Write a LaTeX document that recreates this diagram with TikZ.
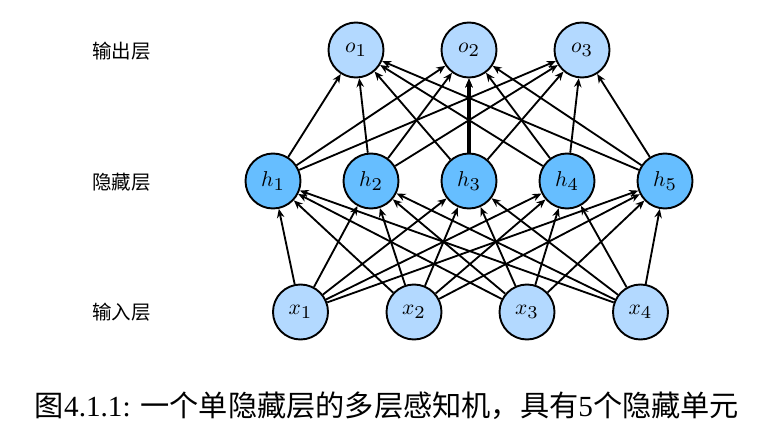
\documentclass[tikz,border=0pt]{standalone}
\usepackage{fontspec}
\setmainfont{Liberation Serif}
\newfontfamily\cjk{Noto Sans CJK SC}
\usetikzlibrary{arrows.meta}
\definecolor{lightb}{RGB}{179,217,255}
\definecolor{darkb}{RGB}{102,190,255}
\newcommand{\nlab}[2]{\scalebox{2.15}{$#1_{\scalebox{1.2}{$\scriptstyle #2$}}$}}
\tikzset{
  neuron/.style={circle,draw=black,line width=1.9pt,minimum size=55pt,inner sep=0pt},
  inout/.style={neuron,fill=lightb},
  hid/.style={neuron,fill=darkb},
  conn/.style={line width=1.85pt,-{Stealth[length=9pt,width=7.5pt]}},
  layerlab/.style={font=\cjk\fontsize{19.5}{22}\selectfont,anchor=west,inner sep=0pt}
}
\begin{document}
\begin{tikzpicture}[x=1pt,y=-1pt]
\useasboundingbox (0,0) rectangle (769,439);
\fill[white] (0,0) rectangle (769,439);
\node[inout] (o1) at (356,50) {\nlab{o}{1}};
\node[inout] (o2) at (469,50) {\nlab{o}{2}};
\node[inout] (o3) at (582,50) {\nlab{o}{3}};
\node[hid] (h1) at (273,181) {\nlab{h}{1}};
\node[hid] (h2) at (371,181) {\nlab{h}{2}};
\node[hid] (h3) at (469,181) {\nlab{h}{3}};
\node[hid] (h4) at (567,181) {\nlab{h}{4}};
\node[hid] (h5) at (665,181) {\nlab{h}{5}};
\node[inout] (x1) at (300.5,312) {\nlab{x}{1}};
\node[inout] (x2) at (414,312) {\nlab{x}{2}};
\node[inout] (x3) at (527,312) {\nlab{x}{3}};
\node[inout] (x4) at (640.5,312) {\nlab{x}{4}};
\foreach \i in {1,...,4}{
  \foreach \j in {1,...,5}{
    \draw[conn] (x\i) -- (h\j);
  }
}
\foreach \j in {1,...,5}{
  \foreach \k in {1,2,3}{
    \draw[conn] (h\j) -- (o\k);
  }
}
\draw[line width=3.6pt,-{Stealth[length=9pt,width=7.5pt]}] (h3) -- (o2);
\node[layerlab] (l1) at (92,51) {输出层};
\node[layerlab] (l2) at (92,182) {隐藏层};
\node[layerlab] (l3) at (92,312) {输入层};
\node[font=\fontsize{29.2}{33}\selectfont] (cap) at (387,406) {{\cjk 图}4.1.1: {\cjk 一个单隐藏层的多层感知机，具有}5{\cjk 个隐藏单元}};
\end{tikzpicture}
\end{document}
